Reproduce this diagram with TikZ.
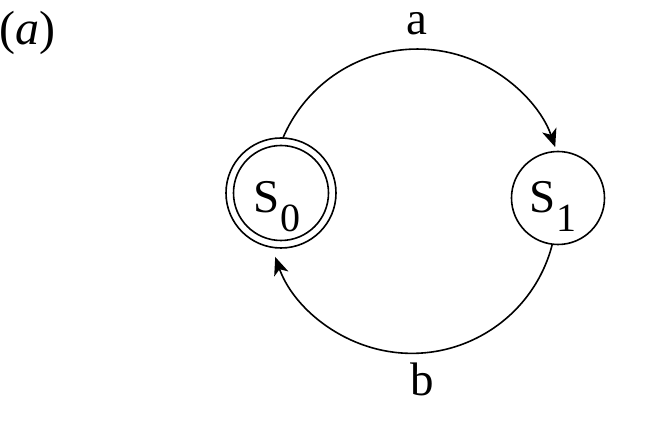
\documentclass[tikz,border=0pt]{standalone}
\usepackage{fontspec}
\setmainfont{Liberation Serif}
\usetikzlibrary{arrows.meta}
\begin{document}
\begin{tikzpicture}[x=1pt,y=1pt,
  statebox/.style={circle, draw, line width=1.6pt, inner sep=0pt, outer sep=0pt},
  conn/.style={line width=1.6pt, -{Stealth[length=18pt,width=15pt,inset=5pt]}},
  lbl/.style={inner sep=0pt, anchor=base, font=\fontsize{47}{50}\selectfont}]
\useasboundingbox (0,0) rectangle (669,423);
\newcommand{\stname}[1]{\fontsize{47}{50}\selectfont S\kern1pt\raisebox{-19pt}{\fontsize{40}{40}\selectfont #1}}
\node[statebox, minimum size=110pt] (s0) at (281,230) {};
\node[statebox, minimum size=95pt] (s0in) at (s0.center) {};
\node[inner sep=0pt, anchor=base] (s0t) at (277,210) {\stname{0}};
\node[statebox, minimum size=93pt] (s1) at (558,225) {};
\node[inner sep=0pt, anchor=base] (s1t) at (553,210) {\stname{1}};
\draw[conn] (s0.88) arc[start angle=157, end angle=19.2, radius=146];
\draw[conn] (s1.-97) arc[start angle=-14.3, end angle=-160.4, radius=145];
\node[lbl] (la) at (417,388) {a};
\node[lbl] (lb) at (422,28) {b};
\node[inner sep=0pt, anchor=base west, font=\fontsize{48}{52}\selectfont] (cap) at (-1,378) {(\textit{a})};
\end{tikzpicture}
\end{document}
